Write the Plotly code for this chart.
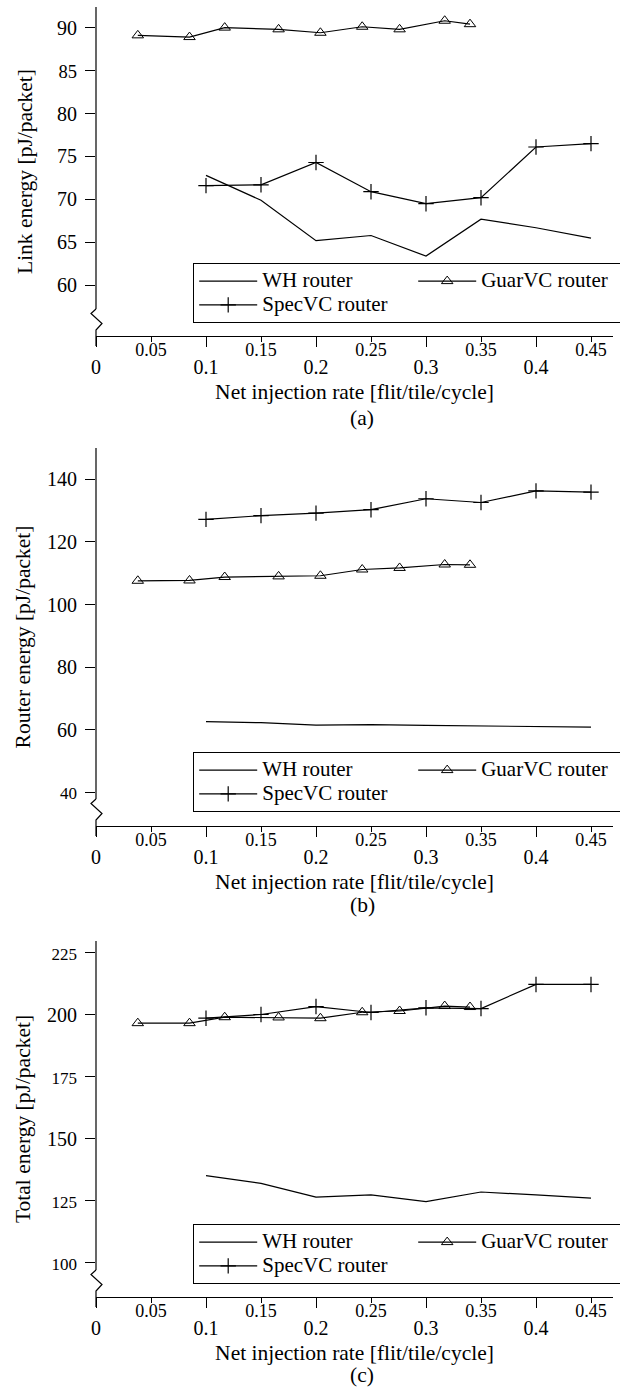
import plotly.graph_objects as go

# ---------------- data ----------------
x_rate = [0.10, 0.15, 0.20, 0.25, 0.30, 0.35, 0.40, 0.45]
x_guar = [0.038, 0.085, 0.117, 0.166, 0.204, 0.242, 0.276, 0.317, 0.340]

link_wh = [72.8, 69.9, 65.2, 65.8, 63.4, 67.7, 66.7, 65.5]
link_spec = [71.6, 71.7, 74.3, 70.9, 69.5, 70.2, 76.1, 76.5]
link_guar = [89.1, 88.9, 90.0, 89.8, 89.4, 90.1, 89.8, 90.8, 90.4]

router_wh = [62.6, 62.3, 61.5, 61.7, 61.4, 61.2, 61.0, 60.9]
router_spec = [127.2, 128.4, 129.2, 130.3, 133.8, 132.6, 136.3, 135.9]
router_guar = [107.6, 107.7, 108.8, 109.0, 109.2, 111.2, 111.7, 112.8, 112.7]

total_wh = [135.2, 132.1, 126.5, 127.4, 124.7, 128.6, 127.4, 126.1]
total_spec = [198.6, 200.1, 203.3, 200.9, 202.8, 202.5, 212.2, 212.2]
total_guar = [196.6, 196.6, 199.0, 198.9, 198.6, 201.0, 201.5, 203.5, 203.1]

series_names = ["WH router", "GuarVC router", "SpecVC router"]

x_major = [0, 0.1, 0.2, 0.3, 0.4]
x_major_text = ["0", "0.1", "0.2", "0.3", "0.4"]
x_minor = [0.05, 0.15, 0.25, 0.35, 0.45]
x_minor_text = ["0.05", "0.15", "0.25", "0.35", "0.45"]

link_ticks = [60, 65, 70, 75, 80, 85, 90]
router_ticks = [40, 60, 80, 100, 120, 140]
total_ticks = [100, 125, 150, 175, 200, 225]

y_titles = ["Link energy [pJ/packet]", "Router energy [pJ/packet]", "Total energy [pJ/packet]"]
x_title = "Net injection rate [flit/tile/cycle]"
panel_labels = ["(a)", "(b)", "(c)"]

# ---------------- layout geometry (pixels) ----------------
W, H = 620, 1395
ML, MR, MT, MB = 96, 7, 7, 98
PW = W - ML - MR
PH = H - MT - MB
FONT = "Liberation Serif"

def py2paper(py):
    return (H - MB - py) / PH

def px2paper(px):
    return (px - ML) / PW

panels = [
    dict(wh=link_wh, spec=link_spec, guar=link_guar, yr=[54.1, 92.4], ticks=link_ticks,
         tsize={85: 18.5}, top=7, bot=336, leg_top=263, lab=418, ystand=18),
    dict(wh=router_wh, spec=router_spec, guar=router_guar, yr=[29.3, 150.0], ticks=router_ticks,
         tsize={40: 17}, top=448, bot=826, leg_top=752, lab=905, ystand=10),
    dict(wh=total_wh, spec=total_spec, guar=total_guar, yr=[86.3, 229.7], ticks=total_ticks,
         tsize={225: 17, 175: 17, 125: 17, 100: 17}, top=941, bot=1297, leg_top=1224, lab=1375,
         ystand=10),
]

fig = go.Figure()
shapes = []
annotations = []
layout = dict(
    width=W, height=H,
    margin=dict(l=ML, r=MR, t=MT, b=MB, autoexpand=False),
    paper_bgcolor="white", plot_bgcolor="white",
    font=dict(family=FONT, color="black"),
    showlegend=True,
)

def legname(s):
    return '<span style="font-size:21px">%s</span>' % s

for i, p in enumerate(panels):
    k = "" if i == 0 else str(i + 1)
    xa, ya = "x" + k, "y" + k
    leg = "legend" + k
    xo = "x" + str(i + 4)

    fig.add_trace(go.Scatter(x=x_rate, y=p["wh"], mode="lines", name=legname(series_names[0]),
                             line=dict(color="black", width=1.2), xaxis=xa, yaxis=ya, legend=leg))
    fig.add_trace(go.Scatter(x=x_guar, y=p["guar"], mode="lines+markers",
                             name=legname(series_names[1]),
                             line=dict(color="black", width=1.2),
                             marker=dict(symbol="triangle-up-open", size=10, color="black",
                                         line=dict(width=1)),
                             legendwidth=146,
                             xaxis=xa, yaxis=ya, legend=leg))
    fig.add_trace(go.Scatter(x=x_rate, y=p["spec"], mode="lines+markers",
                             name=legname(series_names[2]),
                             line=dict(color="black", width=1.2),
                             marker=dict(symbol="cross-thin-open", size=11, color="black",
                                         line=dict(width=1.2, color="black")),
                             xaxis=xa, yaxis=ya, legend=leg))
    # empty trace so that the overlay axis carrying the 0.05-step labels is drawn
    fig.add_trace(go.Scatter(x=[None], y=[None], mode="lines", showlegend=False,
                             hoverinfo="skip", xaxis=xo, yaxis=ya))

    dom = [py2paper(p["bot"]), py2paper(p["top"])]
    ttext = []
    for t in p["ticks"]:
        s = p["tsize"].get(t, 20)
        ttext.append('<span style="font-size:%gpx">%d</span>' % (s, t))

    layout["xaxis" + k] = dict(
        domain=[0, 1], anchor=ya, range=[0, 0.47],
        showline=True, linecolor="black", linewidth=1.2, mirror=False,
        showgrid=False, zeroline=False,
        ticks="outside", ticklen=10, tickwidth=1, tickcolor="black",
        tickvals=x_major, ticktext=x_major_text,
        tickfont=dict(family=FONT, size=20, color="black"),
        ticklabelstandoff=3,
        minor=dict(tickvals=x_minor, ticks="outside", ticklen=5, tickwidth=1,
                   tickcolor="black", showgrid=False),
        title=dict(text=x_title, font=dict(family=FONT, size=21.5, color="black"), standoff=6),
    )
    layout["xaxis" + str(i + 4)] = dict(
        overlaying=xa, anchor=ya, range=[0, 0.47], side="bottom",
        showline=False, showgrid=False, zeroline=False, ticks="",
        tickvals=x_minor, ticktext=x_minor_text,
        tickfont=dict(family=FONT, size=18, color="black"),
        ticklabelstandoff=1,
    )
    layout["yaxis" + k] = dict(
        domain=dom, anchor=xa, range=p["yr"],
        showline=False, showgrid=False, zeroline=False,
        ticks="outside", ticklen=10, tickwidth=1, tickcolor="black",
        tickvals=p["ticks"], ticktext=ttext,
        tickfont=dict(family=FONT, size=20, color="black"),
        ticklabelstandoff=4,
        title=dict(text=y_titles[i], font=dict(family=FONT, size=21.5, color="black"),
                   standoff=p["ystand"]),
    )
    layout[leg] = dict(
        x=px2paper(193), y=py2paper(p["leg_top"]), xref="paper", yref="paper",
        xanchor="left", yanchor="top",
        orientation="h", entrywidth=125, entrywidthmode="pixels",
        itemwidth=58,
        bgcolor="white", bordercolor="black", borderwidth=1.2,
        font=dict(family=FONT, size=16, color="black"),
        traceorder="normal",
    )

    # y axis line with break symbol
    b = p["bot"]
    shapes.append(dict(type="line", xref="paper", yref="paper",
                       x0=0, x1=0, y0=py2paper(p["top"]), y1=py2paper(b - 27),
                       line=dict(color="black", width=1.2)))
    path = "M %f,%f L %f,%f L %f,%f L %f,%f L %f,%f" % (
        px2paper(ML), py2paper(b - 27),
        px2paper(ML - 5), py2paper(b - 22.5),
        px2paper(ML + 6), py2paper(b - 12.5),
        px2paper(ML), py2paper(b - 6),
        px2paper(ML), py2paper(b + 10),
    )
    shapes.append(dict(type="path", xref="paper", yref="paper", path=path,
                       line=dict(color="black", width=1.2)))

    annotations.append(dict(text=panel_labels[i], xref="paper", yref="paper",
                            x=px2paper(362), y=py2paper(p["lab"]), showarrow=False,
                            xanchor="center", yanchor="middle",
                            font=dict(family=FONT, size=21.5, color="black")))

layout["shapes"] = shapes
layout["annotations"] = annotations
fig.update_layout(**layout)
fig.write_html("out.html", config={"displayModeBar": False},
               post_script="document.body.style.margin='0px';")
